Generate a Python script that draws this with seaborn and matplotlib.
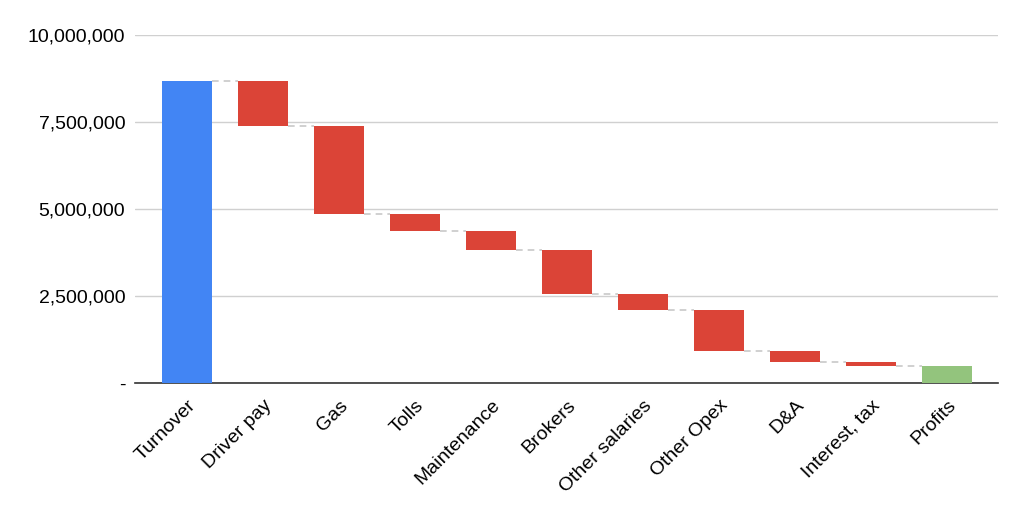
import matplotlib
matplotlib.use("Agg")
import matplotlib.pyplot as plt
import seaborn as sns
import numpy as np
import pandas as pd
from matplotlib.ticker import FuncFormatter, MultipleLocator

categories = ["Turnover", "Driver pay", "Gas", "Tolls", "Maintenance", "Brokers",
              "Other salaries", "Other Opex", "D&A", "Interest, tax", "Profits"]
turnover = 8675000
costs = [1285000, 2540000, 480000, 553000, 1257000, 465000, 1177000, 328000, 102000]

# build floating bars
levels = [turnover]
for c in costs:
    levels.append(levels[-1] - c)
profit = levels[-1]

bottoms = [0] + levels[1:] + [0]
heights = [turnover] + costs + [profit]

df = pd.DataFrame({"category": categories, "height": heights, "bottom": bottoms})

sns.set_style("white")
plt.rcParams["font.family"] = ["Liberation Sans", "DejaVu Sans"]

fig = plt.figure(figsize=(10.24, 5.14), dpi=100)
ax = fig.add_axes([135 / 1024, 1 - 383 / 514, (998 - 135) / 1024, (383 - 35) / 514])

bw = 0.66
sns.barplot(data=df, x="category", y="height", bottom=df["bottom"].values,
            width=bw, ax=ax, color="#DB4437", linewidth=0, zorder=3)

bar_colors = ["#4285F4"] + ["#DB4437"] * len(costs) + ["#93C47D"]
for p, c in zip(ax.patches, bar_colors):
    p.set_facecolor(c)

# connectors
conn_levels = [turnover] + levels[1:]
for i, lv in enumerate(conn_levels):
    ax.plot([i + bw / 2, i + 1 - bw / 2], [lv, lv], color="#c8c8c8", lw=1.2,
            ls=(0, (4, 3)), zorder=2)

ax.set_ylim(0, 10000000)
ax.set_xlim(-0.684, 10.67)
ax.yaxis.set_major_locator(MultipleLocator(2500000))
ax.yaxis.set_major_formatter(FuncFormatter(lambda v, p: "-" if v == 0 else f"{v:,.0f}"))
ax.grid(axis="y", color="#d0d0d0", lw=1, zorder=0)
ax.set_axisbelow(True)
for s in ["top", "right", "left"]:
    ax.spines[s].set_visible(False)
ax.spines["bottom"].set_color("#333333")
ax.spines["bottom"].set_linewidth(1.2)
ax.set_xlabel("")
ax.set_ylabel("")
ax.tick_params(axis="y", length=0, pad=7, labelsize=14, colors="#000000")
ax.tick_params(axis="x", length=0, pad=10, labelsize=14, colors="#000000")
plt.setp(ax.get_xticklabels(), rotation=45, ha="right", rotation_mode="anchor")

fig.savefig("out.png", dpi=100)
